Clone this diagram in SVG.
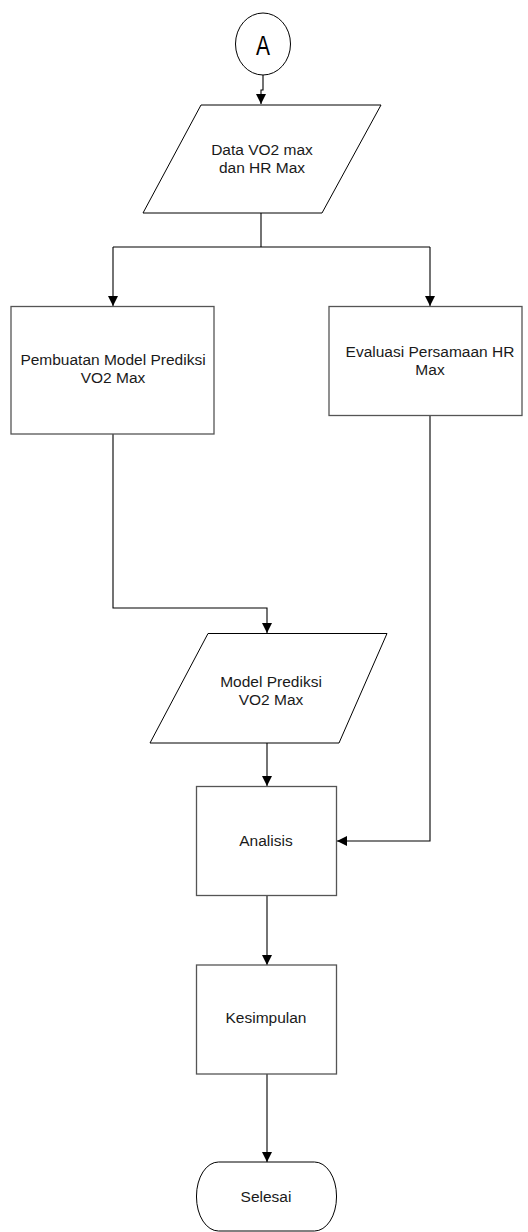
<svg xmlns="http://www.w3.org/2000/svg" width="528" height="1232" viewBox="0 0 528 1232">
<style>
.shape{fill:#fff;stroke:#000;stroke-width:1}
.box{fill:#fff;stroke:#555;stroke-width:1.3}
.lbl{font-family:"Liberation Sans",Arial,sans-serif;font-size:15.5px;fill:#1a1a1a;text-anchor:middle}
.conn{fill:none;stroke:#000;stroke-width:1.1}
</style>
<defs>
<marker id="arr" viewBox="0 0 10 10" refX="10" refY="5" markerWidth="10" markerHeight="10" markerUnits="userSpaceOnUse" orient="auto">
<path d="M0,0 L10,5 L0,10 Z" fill="#000"/>
</marker>
</defs>
<rect width="528" height="1232" fill="#fff"/>
<g id="connectors">
<polyline class="conn" points="263,75 263,90 261,90 261,104" marker-end="url(#arr)"/>
<polyline class="conn" points="261,213 261,247"/>
<polyline class="conn" points="113,247 430,247"/>
<polyline class="conn" points="113,247 113,306" marker-end="url(#arr)"/>
<polyline class="conn" points="430,247 430,306" marker-end="url(#arr)"/>
<polyline class="conn" points="113,434 113,608 267,608 267,633" marker-end="url(#arr)"/>
<polyline class="conn" points="267,743 267,786" marker-end="url(#arr)"/>
<polyline class="conn" points="430,416 430,841 337,841" marker-end="url(#arr)"/>
<polyline class="conn" points="267,896 267,965" marker-end="url(#arr)"/>
<polyline class="conn" points="267,1074 267,1162" marker-end="url(#arr)"/>
</g>
<g id="start">
<ellipse class="shape" cx="263" cy="44" rx="27.5" ry="31"/>
<text x="263" y="55" font-family="Liberation Sans,Arial,sans-serif" font-size="28" fill="#000" text-anchor="middle" textLength="14" lengthAdjust="spacingAndGlyphs">A</text>
</g>
<g id="data">
<polygon class="shape" points="201,105 381,105 322,213 143,213"/>
<text class="lbl" x="262" y="155">Data VO2 max</text>
<text class="lbl" x="262" y="173">dan HR Max</text>
</g>
<g id="pembuatan">
<rect class="box" x="11" y="306.5" width="203" height="127.5"/>
<text class="lbl" x="113" y="365">Pembuatan Model Prediksi</text>
<text class="lbl" x="113" y="383">VO2 Max</text>
</g>
<g id="evaluasi">
<rect class="box" x="329" y="306.5" width="193" height="109"/>
<text class="lbl" x="430" y="357">Evaluasi Persamaan HR</text>
<text class="lbl" x="430" y="375">Max</text>
</g>
<g id="model">
<polygon class="shape" points="208,633.5 387,633.5 339,743 150,743"/>
<text class="lbl" x="271" y="687">Model Prediksi</text>
<text class="lbl" x="271" y="705">VO2 Max</text>
</g>
<g id="analisis">
<rect class="box" x="196.5" y="786.5" width="140" height="109"/>
<text class="lbl" x="266" y="846">Analisis</text>
</g>
<g id="kesimpulan">
<rect class="box" x="196.5" y="965" width="140" height="109"/>
<text class="lbl" x="266" y="1023">Kesimpulan</text>
</g>
<g id="selesai">
<rect class="shape" x="196.5" y="1162" width="140" height="69" rx="22" ry="34"/>
<text class="lbl" x="266" y="1202">Selesai</text>
</g>
</svg>
